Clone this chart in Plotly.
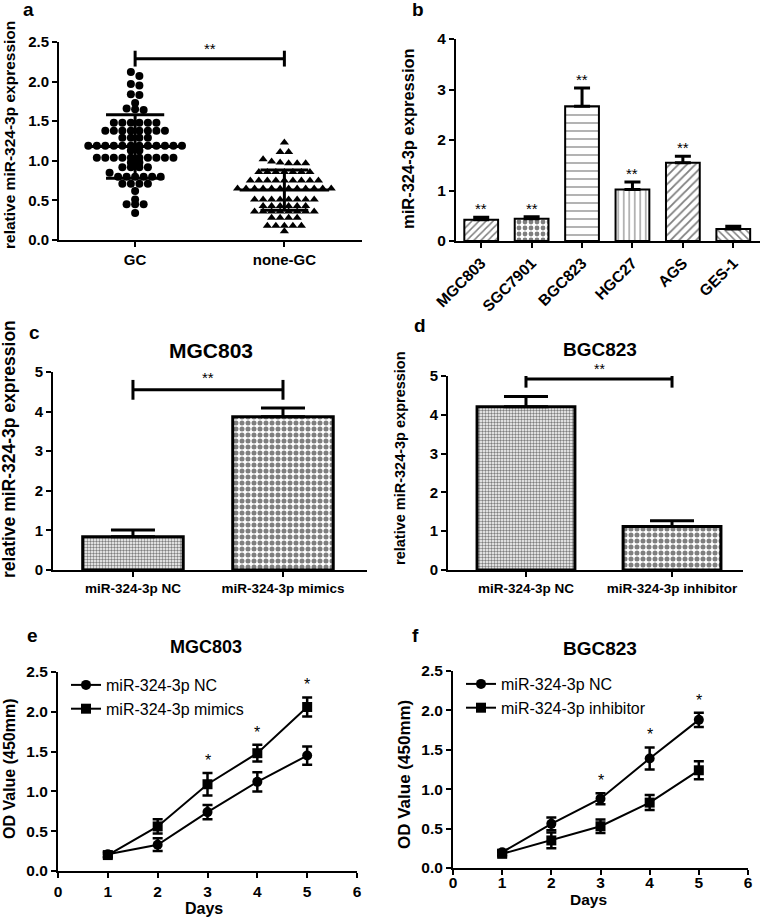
import plotly.graph_objects as go

W, H = 761, 917
FONT = "Arial, Liberation Sans, sans-serif"

# ---------------- data ----------------
# panel a
GROUP_LABELS = ["GC", "none-GC"]
GC_VALUES = [2.12, 2.07, 1.97, 1.95, 1.84, 1.83, 1.73, 1.66, 1.65, 1.64,
             1.48, 1.48, 1.48, 1.48, 1.48, 1.48,
             1.38, 1.38, 1.38, 1.38, 1.38, 1.38, 1.38, 1.38,
             1.29, 1.29, 1.29, 1.29,
             1.19, 1.19, 1.19, 1.19, 1.19, 1.19, 1.19, 1.19, 1.19, 1.19, 1.19, 1.19,
             1.13, 1.13,
             1.04, 1.04, 1.04, 1.04, 1.04, 1.04, 1.04, 1.04, 1.04, 1.04,
             0.98, 0.98,
             0.92, 0.92, 0.92, 0.92,
             0.85, 0.80, 0.80, 0.80, 0.80, 0.80, 0.80,
             0.71, 0.71, 0.71, 0.71,
             0.62, 0.51, 0.45, 0.45, 0.45, 0.34]
NONGC_VALUES = [1.23, 1.11, 1.11,
                1.02, 0.99, 0.98, 0.97, 0.97, 0.97,
                0.86, 0.86, 0.86, 0.86, 0.86, 0.86, 0.86,
                0.75, 0.75, 0.75, 0.75, 0.75, 0.75, 0.75, 0.75, 0.75,
                0.65, 0.65, 0.65, 0.65, 0.65, 0.65, 0.65, 0.65, 0.65, 0.65, 0.65, 0.65,
                0.51, 0.51, 0.51, 0.51, 0.51, 0.51, 0.51, 0.51,
                0.43, 0.43, 0.43, 0.43, 0.43, 0.43,
                0.36, 0.36, 0.36, 0.36, 0.36, 0.36, 0.36, 0.36,
                0.28, 0.28, 0.28, 0.28,
                0.18, 0.18, 0.18, 0.18, 0.18, 0.11]
GROUP_MEAN = [1.18, 0.63]
GROUP_SD = [0.40, 0.255]
A_SIG = "**"

# panel b
CELL_LINES = ["MGC803", "SGC7901", "BGC823", "HGC27", "AGS", "GES-1"]
CELL_EXPR = [0.42, 0.44, 2.67, 1.02, 1.55, 0.24]
CELL_ERR = [0.05, 0.04, 0.36, 0.15, 0.13, 0.05]
CELL_SIG = ["**", "**", "**", "**", "**", ""]

# panel c
C_GROUPS = ["miR-324-3p NC", "miR-324-3p mimics"]
C_EXPR = [0.84, 3.87]
C_ERR = [0.17, 0.22]

# panel d
D_GROUPS = ["miR-324-3p NC", "miR-324-3p inhibitor"]
D_EXPR = [4.21, 1.12]
D_ERR = [0.26, 0.15]

# panel e
DAYS = [1, 2, 3, 4, 5]
E_NC = [0.21, 0.33, 0.74, 1.12, 1.45]
E_NC_ERR = [0.03, 0.08, 0.09, 0.12, 0.115]
E_MIM = [0.20, 0.56, 1.09, 1.48, 2.06]
E_MIM_ERR = [0.03, 0.09, 0.14, 0.105, 0.12]
E_SIG = ["", "", "*", "*", "*"]

# panel f
F_NC = [0.20, 0.56, 0.88, 1.39, 1.88]
F_NC_ERR = [0.03, 0.08, 0.07, 0.14, 0.09]
F_INH = [0.18, 0.35, 0.53, 0.83, 1.24]
F_INH_ERR = [0.03, 0.10, 0.085, 0.095, 0.115]
F_SIG = ["", "", "*", "*", "*"]

# ---------------- layout helpers ----------------
PANELS = {
    1: (59, 362, 42, 240),
    2: (456, 760, 39, 241),
    3: (53, 367, 372, 570),
    4: (448, 743, 376, 570),
    5: (58, 357, 672, 871),
    6: (453, 748, 671, 868),
}


def ax_name(k, letter):
    return f"{letter}axis" if k == 1 else f"{letter}axis{k}"


def ref(k, letter):
    return letter if k == 1 else f"{letter}{k}"


def axis_style(size):
    return dict(showline=True, linecolor="black", linewidth=2, ticks="outside",
                ticklen=5, tickwidth=2, tickcolor="black", showgrid=False,
                zeroline=False, fixedrange=True, automargin=False,
                tickfont=dict(family=FONT, size=size, color="black", weight="bold"))


fig = go.Figure()
annotations = []


def ann(text, x, y, size, bold=True, angle=0, xref="paper", yref="paper",
        xanchor="center", yanchor="middle", yshift=0):
    annotations.append(dict(text=text, x=x, y=y, xref=xref, yref=yref,
                            showarrow=False, textangle=angle, xanchor=xanchor,
                            yanchor=yanchor, yshift=yshift,
                            font=dict(family=FONT, size=size, color="black",
                                      weight="bold" if bold else "normal")))


def pann(text, xpx, ypx, size, bold=True, angle=0):
    ann(text, xpx / W, 1 - ypx / H, size, bold, angle)


# ---------------- panel a ----------------
def swarm_offsets(values, tol, step):
    order = sorted(range(len(values)), key=lambda i: -values[i])
    rows = []
    for i in order:
        if rows and values[rows[-1][0]] - values[i] <= tol:
            rows[-1].append(i)
        else:
            rows.append([i])
    offs = [0.0] * len(values)
    for row in rows:
        n = len(row)
        for k, i in enumerate(row):
            offs[i] = (k - (n - 1) / 2) * step
    return offs


STEP_A = 8.5 / 149.0
for gi, (vals, sym) in enumerate([(GC_VALUES, "circle"), (NONGC_VALUES, "triangle-up")]):
    offs = swarm_offsets(vals, 0.055, STEP_A)
    fig.add_trace(go.Scatter(x=[gi + o for o in offs], y=vals, mode="markers",
                             marker=dict(symbol=sym, size=8, color="black",
                                         line=dict(width=0)),
                             xaxis="x", yaxis="y", showlegend=False, cliponaxis=False))
MEAN_HALF = [0.335, 0.30]
SD_HALF = [0.195, 0.16]
lx, ly = [], []
for gi in range(2):
    m, s = GROUP_MEAN[gi], GROUP_SD[gi]
    lx += [gi - MEAN_HALF[gi], gi + MEAN_HALF[gi], None,
           gi, gi, None,
           gi - SD_HALF[gi], gi + SD_HALF[gi], None,
           gi - SD_HALF[gi], gi + SD_HALF[gi], None]
    ly += [m, m, None, m - s, m + s, None, m + s, m + s, None, m - s, m - s, None]
fig.add_trace(go.Scatter(x=lx, y=ly, mode="lines", line=dict(color="black", width=3),
                         xaxis="x", yaxis="y", showlegend=False, cliponaxis=False))
# significance bracket
BR_A = 2.29
fig.add_trace(go.Scatter(x=[0, 0, None, 0, 1, None, 1, 1],
                         y=[BR_A - 0.1, BR_A + 0.1, None, BR_A, BR_A, None, BR_A - 0.1, BR_A + 0.1],
                         mode="lines", line=dict(color="black", width=3),
                         xaxis="x", yaxis="y", showlegend=False, cliponaxis=False))
ann(A_SIG, 0.5, BR_A, 15, bold=False, xref="x", yref="y", yanchor="bottom", yshift=0)

# ---------------- panel b ----------------
fig.add_trace(go.Bar(
    x=list(range(len(CELL_LINES))), y=CELL_EXPR, width=0.67,
    marker=dict(color="white", line=dict(color="black", width=2),
                pattern=dict(shape=["/", ".", "-", "|", "/", "\\"],
                             size=[5, 6, 8, 5.5, 6, 5],
                             solidity=[0.3, 0.5, 0.15, 0.2, 0.3, 0.3],
                             fgcolor="black", bgcolor="white")),
    error_y=dict(type="data", array=CELL_ERR, arrayminus=[0] * len(CELL_ERR),
                 symmetric=False, color="black", thickness=3, width=8),
    xaxis="x2", yaxis="y2", showlegend=False))
for i, s in enumerate(CELL_SIG):
    if s:
        ann(s, i, CELL_EXPR[i] + CELL_ERR[i], 15, bold=False, xref="x2", yref="y2",
            yanchor="bottom", yshift=-2)

# ---------------- panel c / d ----------------
for k, groups, vals, errs in [(3, C_GROUPS, C_EXPR, C_ERR), (4, D_GROUPS, D_EXPR, D_ERR)]:
    fig.add_trace(go.Bar(
        x=[0, 1], y=vals, width=0.67,
        marker=dict(color="white", line=dict(color="black", width=3),
                    pattern=dict(shape=[".", "."], size=[3, 6], solidity=[0.5, 0.55],
                                 fgcolor="black", bgcolor="white")),
        error_y=dict(type="data", array=errs, arrayminus=[0, 0], symmetric=False,
                     color="black", thickness=3, width=22),
        xaxis=ref(k, "x"), yaxis=ref(k, "y"), showlegend=False))

BR_C = 4.55
fig.add_trace(go.Scatter(x=[0, 0, None, 0, 1, None, 1, 1],
                         y=[BR_C - 0.25, BR_C + 0.25, None, BR_C, BR_C, None, BR_C - 0.25, BR_C + 0.25],
                         mode="lines", line=dict(color="black", width=3),
                         xaxis="x3", yaxis="y3", showlegend=False, cliponaxis=False))
ann("**", 0.5, BR_C, 15, bold=False, xref="x3", yref="y3", yanchor="bottom", yshift=2)
BR_D = 4.92
fig.add_trace(go.Scatter(x=[0, 0, None, 0, 1, None, 1, 1],
                         y=[BR_D - 0.22, BR_D + 0.22, None, BR_D, BR_D, None, BR_D - 0.22, BR_D + 0.22],
                         mode="lines", line=dict(color="black", width=3),
                         xaxis="x4", yaxis="y4", showlegend=False, cliponaxis=False))
ann("**", 0.5, BR_D, 14, bold=False, xref="x4", yref="y4", yanchor="bottom", yshift=0)

# ---------------- panel e / f ----------------
for k, leg, s1, e1, n1, s2, e2, n2, sig in [
        (5, "legend", E_NC, E_NC_ERR, "miR-324-3p NC", E_MIM, E_MIM_ERR, "miR-324-3p mimics", E_SIG),
        (6, "legend2", F_NC, F_NC_ERR, "miR-324-3p NC", F_INH, F_INH_ERR, "miR-324-3p inhibitor", F_SIG)]:
    for ys, es, name, sym in [(s1, e1, n1, "circle"), (s2, e2, n2, "square")]:
        fig.add_trace(go.Scatter(
            x=DAYS, y=ys, name=name, mode="lines+markers",
            line=dict(color="black", width=2),
            marker=dict(symbol=sym, size=10, color="black"),
            error_y=dict(type="data", array=es, color="black", thickness=2.5, width=5),
            xaxis=ref(k, "x"), yaxis=ref(k, "y"), legend=leg, cliponaxis=False))
    for i, s in enumerate(sig):
        if s:
            top = max(s1[i] + e1[i], s2[i] + e2[i])
            ann(s, DAYS[i], top, 16, bold=False, xref=ref(k, "x"), yref=ref(k, "y"),
                yanchor="bottom", yshift=2)

# ---------------- axes ----------------
layout = dict(width=W, height=H, autosize=False,
              margin=dict(l=0, r=0, t=0, b=0, pad=0, autoexpand=False),
              paper_bgcolor="white", plot_bgcolor="white", bargap=0,
              font=dict(family=FONT, color="black"))
XR = {1: [-0.51, 1.52], 2: [-0.5, 5.53], 3: [-0.533, 1.56], 4: [-0.534, 1.486],
      5: [0, 6], 6: [0, 6]}
YR = {1: [0, 2.5], 2: [0, 4], 3: [0, 5], 4: [0, 5], 5: [0, 2.5], 6: [0, 2.5]}
YDT = {1: 0.5, 2: 1, 3: 1, 4: 1, 5: 0.5, 6: 0.5}
YFMT = {1: ".1f", 2: "d", 3: "d", 4: "d", 5: ".1f", 6: ".1f"}
TFS = {1: 15, 2: 15.5, 3: 15, 4: 15, 5: 15.5, 6: 15.5}
XFS = {1: 15, 2: 15.5, 3: 13.5, 4: 13.5, 5: 15.5, 6: 15.5}
XTICKS = {1: GROUP_LABELS, 2: CELL_LINES, 3: C_GROUPS, 4: D_GROUPS}
for k, (x0, x1, y0, y1) in PANELS.items():
    xa = axis_style(XFS[k])
    xa.update(domain=[x0 / W, x1 / W], anchor=ref(k, "y"), range=XR[k])
    if k in XTICKS:
        xa.update(tickvals=list(range(len(XTICKS[k]))), ticktext=XTICKS[k])
    else:
        xa.update(tickmode="linear", tick0=0, dtick=1)
    if k == 2:
        xa.update(tickangle=-45)
    if k == 6:
        xa.update(ticklabelstandoff=-6)
    ya = axis_style(TFS[k])
    ya.update(domain=[1 - y1 / H, 1 - y0 / H], anchor=ref(k, "x"), range=YR[k],
              tickmode="linear", tick0=0, dtick=YDT[k], tickformat=YFMT[k])
    layout[ax_name(k, "x")] = xa
    layout[ax_name(k, "y")] = ya

# legends
layout["legend"] = dict(x=66 / W, y=1 - 668 / H, xanchor="left", yanchor="top",
                        bgcolor="rgba(0,0,0,0)", font=dict(family=FONT, size=16, color="black"),
                        itemwidth=30, tracegroupgap=0)
layout["legend2"] = dict(x=461 / W, y=1 - 667 / H, xanchor="left", yanchor="top",
                         bgcolor="rgba(0,0,0,0)", font=dict(family=FONT, size=16, color="black"),
                         itemwidth=30, tracegroupgap=0)

# panel letters
pann("a", 28, 10, 19)
pann("b", 418, 10, 19)
pann("c", 34, 332, 19)
pann("d", 420, 325, 19)
pann("e", 32, 635, 19)
pann("f", 415, 635, 19)
# titles
pann("MGC803", 211, 350, 21)
pann("BGC823", 600, 349, 19)
pann("MGC803", 206, 647, 18)
pann("BGC823", 600, 648, 19)
# y titles
pann("relative miR-324-3p expression", 9, 135, 15.5, angle=-90)
pann("miR-324-3p expression", 408, 139, 16.5, angle=-90)
pann("relative miR-324-3p expression", 9, 449, 17.5, angle=-90)
pann("relative miR-324-3p expression", 400, 458, 14.5, angle=-90)
pann("OD Value (450mm)", 9, 769, 16, angle=-90)
pann("OD Value (450mm)", 404, 774, 17, angle=-90)
# x titles
pann("Days", 204, 908, 16)
pann("Days", 588, 899, 15.5)

layout["annotations"] = annotations
fig.update_layout(**layout)
fig.write_html("out.html",
               config={"displayModeBar": False, "staticPlot": True},
               post_script="document.body.style.margin='0px';"
                           "document.body.style.padding='0px';"
                           "document.body.style.overflow='hidden';")
